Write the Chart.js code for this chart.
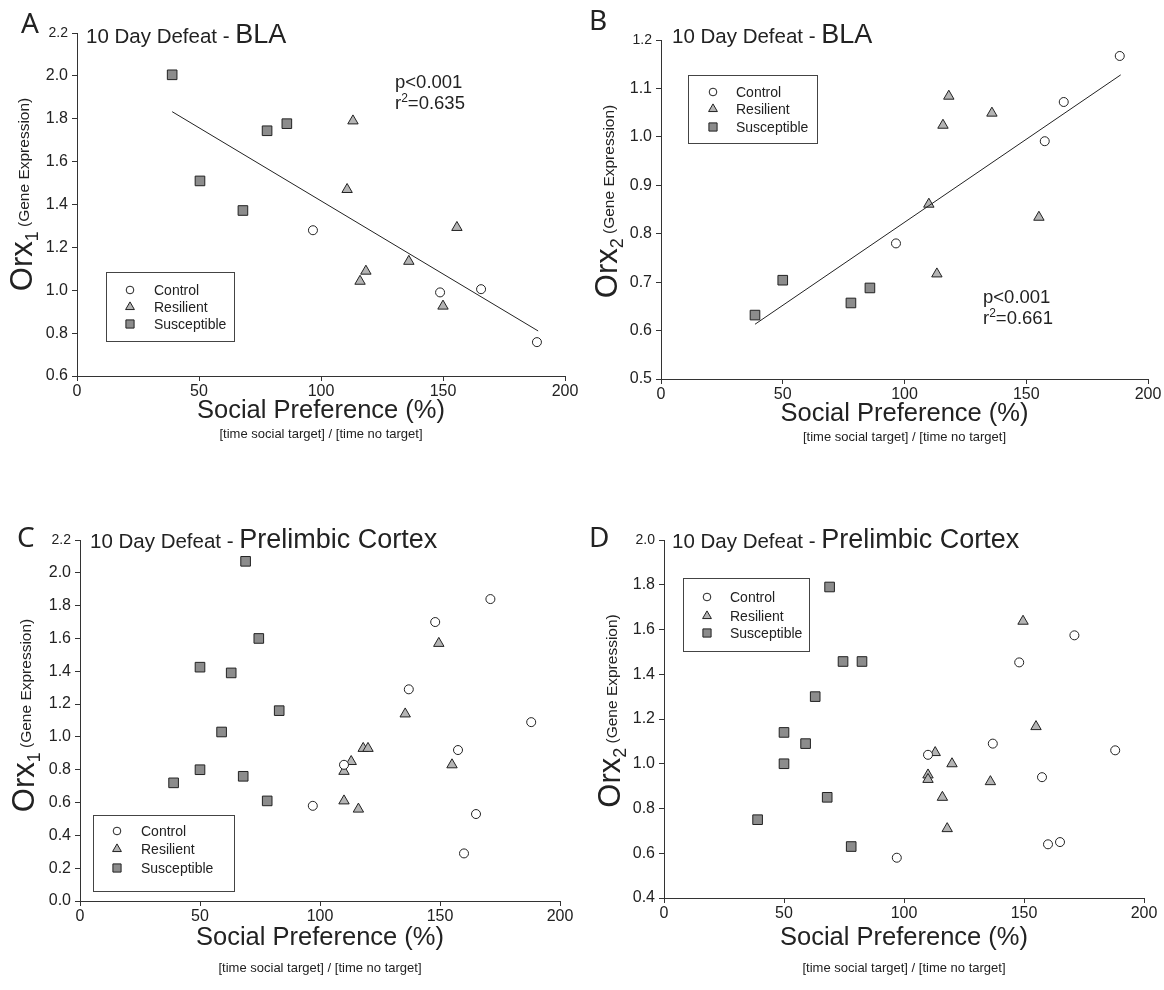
<!DOCTYPE html>
<html>
<head>
<meta charset="utf-8">
<script src="https://cdn.jsdelivr.net/npm/chart.js@4.4.1/dist/chart.umd.min.js"></script>
<style>
  html, body { margin: 0; padding: 0; background: #fff; }
  body { width: 1164px; height: 990px; position: relative; overflow: hidden; }
  canvas { position: absolute; }
</style>
</head>
<body>
<script>
// ==================== DATA ====================
// x = social preference (%), y = Orx gene expression
const xTicks = [0, 50, 100, 150, 200];
const groups = ['Control', 'Resilient', 'Susceptible'];

// A: Orx1, BLA
const ctrlA_x = [96.7, 148.8, 165.6, 188.5];
const ctrlA_y = [1.28, 0.99, 1.005, 0.758];
const resA_x = [110.7, 113.1, 116, 118.4, 136, 150, 155.7];
const resA_y = [1.47, 1.79, 1.042, 1.089, 1.135, 0.926, 1.293];
const susA_x = [39, 50.4, 68, 77.9, 86];
const susA_y = [2.005, 1.51, 1.372, 1.744, 1.777];
const fitA_x = [39, 189];
const fitA_y = [1.833, 0.81];
const yTicksA = [0.6, 0.8, 1.0, 1.2, 1.4, 1.6, 1.8, 2.0, 2.2];

// B: Orx2, BLA
const ctrlB_x = [96.5, 157.6, 165.4, 188.4];
const ctrlB_y = [0.78, 0.991, 1.072, 1.167];
const resB_x = [110, 113.3, 115.8, 118.2, 135.9, 155.2];
const resB_y = [0.861, 0.717, 1.024, 1.084, 1.049, 0.834];
const susB_x = [38.6, 50, 78, 85.8];
const susB_y = [0.632, 0.704, 0.657, 0.688];
const fitB_x = [38.6, 188.8];
const fitB_y = [0.613, 1.128];
const yTicksB = [0.5, 0.6, 0.7, 0.8, 0.9, 1.0, 1.1, 1.2];

// C: Orx1, prelimbic cortex
const ctrlC_x = [97, 110, 137, 148, 157.5, 160, 165, 171, 188];
const ctrlC_y = [0.58, 0.83, 1.29, 1.70, 0.92, 0.29, 0.53, 1.84, 1.09];
const resC_x = [110, 110, 113, 116, 118, 120, 135.5, 149.5, 155];
const resC_y = [0.79, 0.61, 0.85, 0.56, 0.93, 0.93, 1.14, 1.57, 0.83];
const susC_x = [39, 50, 50, 59, 63, 68, 69, 74.5, 78, 83];
const susC_y = [0.72, 1.425, 0.80, 1.03, 1.39, 0.76, 2.07, 1.60, 0.61, 1.16];
const yTicksC = [0.0, 0.2, 0.4, 0.6, 0.8, 1.0, 1.2, 1.4, 1.6, 1.8, 2.0, 2.2];

// D: Orx2, prelimbic cortex
const ctrlD_x = [97, 110, 137, 148, 157.5, 160, 165, 171, 188];
const ctrlD_y = [0.58, 1.04, 1.09, 1.453, 0.94, 0.64, 0.65, 1.574, 1.06];
const resD_x = [110, 110, 113, 116, 118, 120, 136, 149.6, 155];
const resD_y = [0.95, 0.93, 1.05, 0.85, 0.71, 1.0, 0.92, 1.637, 1.166];
const susD_x = [39, 50, 50, 59, 63, 68, 69, 74.6, 78, 82.5];
const susD_y = [0.75, 1.14, 1.0, 1.09, 1.30, 0.85, 1.79, 1.457, 0.63, 1.457];
const yTicksD = [0.4, 0.6, 0.8, 1.0, 1.2, 1.4, 1.6, 1.8, 2.0];

// ==================== STYLES ====================
const FONT = '"Liberation Sans", Arial, sans-serif';
const INK = '#222';
const markers = {
  Control:     { pointStyle: 'circle',   radius: 4.5, bg: '#ffffff', border: INK },
  Resilient:   { pointStyle: 'triangle', radius: 6,   bg: '#b4b4b4', border: INK },
  Susceptible: { pointStyle: 'rect',     radius: 6.8, bg: '#8c8c8c', border: INK }
};

function pts(xs, ys) { return xs.map((x, i) => ({ x: x, y: ys[i] })); }

// ==================== PANELS ====================
const panels = [
  { id: 'A', left: 0, top: 0, w: 590, h: 455,
    area: { left: 77, right: 565, top: 33, bottom: 376 },
    yTicks: yTicksA, orx: '1', region: 'BLA',
    series: [pts(ctrlA_x, ctrlA_y), pts(resA_x, resA_y), pts(susA_x, susA_y)],
    fit: pts(fitA_x, fitA_y),
    letter: { x: 21, y: 33 }, title: { x: 86, y: 43 },
    stats: { x: 395, y: 88, r2: '0.635' },
    legend: { x: 106, y: 272, w: 128, h: 69, mx: 130, tx: 154, rows: [290, 307, 324] },
    xTitleY: 418, subY: 438, yTitleX: 32, yTitleShift: -10 },
  { id: 'B', left: 590, top: 0, w: 574, h: 455,
    area: { left: 661, right: 1148, top: 40, bottom: 379 },
    yTicks: yTicksB, orx: '2', region: 'BLA',
    series: [pts(ctrlB_x, ctrlB_y), pts(resB_x, resB_y), pts(susB_x, susB_y)],
    fit: pts(fitB_x, fitB_y),
    letter: { x: 589, y: 30 }, title: { x: 672, y: 43 },
    stats: { x: 983, y: 303, r2: '0.661' },
    legend: { x: 688, y: 75, w: 129, h: 68, mx: 713, tx: 736, rows: [92, 109, 127] },
    xTitleY: 421, subY: 441, yTitleX: 617, yTitleShift: -8 },
  { id: 'C', left: 0, top: 455, w: 590, h: 535,
    area: { left: 80, right: 560, top: 540, bottom: 901 },
    yTicks: yTicksC, orx: '1', region: 'Prelimbic Cortex',
    series: [pts(ctrlC_x, ctrlC_y), pts(resC_x, resC_y), pts(susC_x, susC_y)],
    fit: null,
    letter: { x: 17, y: 547 }, title: { x: 90, y: 548 },
    stats: null,
    legend: { x: 93, y: 815, w: 141, h: 76, mx: 117, tx: 141, rows: [831, 849, 868] },
    xTitleY: 945, subY: 972, yTitleX: 34, yTitleShift: -5 },
  { id: 'D', left: 590, top: 455, w: 574, h: 535,
    area: { left: 664, right: 1144, top: 540, bottom: 898 },
    yTicks: yTicksD, orx: '2', region: 'Prelimbic Cortex',
    series: [pts(ctrlD_x, ctrlD_y), pts(resD_x, resD_y), pts(susD_x, susD_y)],
    fit: null,
    letter: { x: 589, y: 547 }, title: { x: 672, y: 548 },
    stats: null,
    legend: { x: 683, y: 578, w: 126, h: 73, mx: 707, tx: 730, rows: [597, 616, 633] },
    xTitleY: 945, subY: 972, yTitleX: 620, yTitleShift: -8 }
];

// ==================== TEXT / LEGEND PLUGIN ====================
function drawMarker(ctx, name, x, y, scale) {
  const m = markers[name];
  ctx.save();
  ctx.fillStyle = m.bg;
  ctx.strokeStyle = m.border;
  ctx.lineWidth = 1;
  Chart.helpers.drawPoint(ctx, { pointStyle: m.pointStyle, radius: m.radius * scale, borderWidth: 1, rotation: 0 }, x, y);
  ctx.restore();
}

const textPlugin = {
  id: 'panelText',
  afterDraw(chart) {
    const p = chart.config.options.panel;
    const ctx = chart.ctx;
    const a = chart.chartArea;
    ctx.save();
    ctx.translate(-p.left, -p.top);
    ctx.fillStyle = INK;
    ctx.textBaseline = 'alphabetic';
    ctx.textAlign = 'left';

    // panel letter
    ctx.font = '28px "Noto Sans", sans-serif';
    ctx.fillText(p.id, p.letter.x, p.letter.y);

    // title
    ctx.font = '20.5px ' + FONT;
    const t1 = '10 Day Defeat - ';
    ctx.fillText(t1, p.title.x, p.title.y);
    const w1 = ctx.measureText(t1).width;
    ctx.font = '27px ' + FONT;
    ctx.fillText(p.region, p.title.x + w1, p.title.y);

    // stats
    if (p.stats) {
      ctx.font = '18.5px ' + FONT;
      ctx.fillText('p<0.001', p.stats.x, p.stats.y);
      const y2 = p.stats.y + 21;
      ctx.fillText('r', p.stats.x, y2);
      const wr = ctx.measureText('r').width;
      ctx.font = '12px ' + FONT;
      ctx.fillText('2', p.stats.x + wr, y2 - 7);
      const w2 = ctx.measureText('2').width;
      ctx.font = '18.5px ' + FONT;
      ctx.fillText('=' + p.stats.r2, p.stats.x + wr + w2, y2);
    }

    // legend box
    const L = p.legend;
    ctx.strokeStyle = '#444';
    ctx.lineWidth = 1;
    ctx.strokeRect(L.x + 0.5, L.y + 0.5, L.w, L.h);
    ctx.font = '14px ' + FONT;
    ctx.textBaseline = 'middle';
    groups.forEach((g, i) => {
      drawMarker(ctx, g, L.mx, L.rows[i], 0.85);
      ctx.fillStyle = INK;
      ctx.fillText(g, L.tx, L.rows[i] + 1);
    });
    ctx.textBaseline = 'alphabetic';

    // x axis titles
    const cx = p.left + (a.left + a.right) / 2;
    ctx.textAlign = 'center';
    ctx.font = '25.5px ' + FONT;
    ctx.fillText('Social Preference (%)', cx, p.xTitleY);
    ctx.font = '13px ' + FONT;
    ctx.fillText('[time social target] / [time no target]', cx, p.subY);

    // y axis title (rotated)
    const cy = p.top + (a.top + a.bottom) / 2 + p.yTitleShift;
    ctx.save();
    ctx.translate(p.yTitleX, cy);
    ctx.rotate(-Math.PI / 2);
    ctx.textAlign = 'left';
    const parts = [
      { s: 'Orx', f: '31px ' + FONT, dy: 0 },
      { s: p.orx, f: '18px ' + FONT, dy: 6 },
      { s: ' (Gene Expression)', f: '15.5px ' + FONT, dy: -3 }
    ];
    let total = 0;
    parts.forEach(q => { ctx.font = q.f; q.w = ctx.measureText(q.s).width; total += q.w; });
    let x0 = -total / 2;
    parts.forEach(q => { ctx.font = q.f; ctx.fillText(q.s, x0, q.dy); x0 += q.w; });
    ctx.restore();

    ctx.restore();
  }
};

// ==================== BUILD CHARTS ====================
function makePanel(p) {
  const cv = document.createElement('canvas');
  cv.width = p.w;
  cv.height = p.h;
  cv.style.left = p.left + 'px';
  cv.style.top = p.top + 'px';
  document.body.appendChild(cv);

  const yMin = p.yTicks[0], yMax = p.yTicks[p.yTicks.length - 1];

  const datasets = groups.map((g, i) => ({
    label: g,
    data: p.series[i],
    pointStyle: markers[g].pointStyle,
    pointRadius: markers[g].radius,
    pointBackgroundColor: markers[g].bg,
    pointBorderColor: markers[g].border,
    pointBorderWidth: 1,
    showLine: false
  }));
  if (p.fit) {
    datasets.unshift({
      label: 'fit', data: p.fit, showLine: true,
      borderColor: INK, borderWidth: 1, pointRadius: 0, fill: false
    });
  }

  const tickColor = '#333';
  new Chart(cv, {
    type: 'scatter',
    data: { datasets: datasets },
    options: {
      panel: p,
      responsive: false,
      animation: false,
      events: [],
      layout: { padding: { left: 0, top: p.area.top - p.top, right: p.left + p.w - p.area.right, bottom: 0 } },
      plugins: { legend: { display: false }, tooltip: { enabled: false } },
      scales: {
        x: {
          type: 'linear', min: xTicks[0], max: xTicks[xTicks.length - 1],
          afterBuildTicks: s => { s.ticks = xTicks.map(v => ({ value: v })); },
          ticks: { color: INK, font: { family: FONT, size: 16 }, padding: 1 },
          grid: { drawOnChartArea: false, drawTicks: true, tickLength: 5, color: tickColor },
          border: { color: tickColor, width: 1 },
          afterFit: s => { s.height = p.top + p.h - p.area.bottom; }
        },
        y: {
          type: 'linear', min: yMin, max: yMax,
          afterBuildTicks: s => { s.ticks = p.yTicks.map(v => ({ value: v })); },
          ticks: {
            color: INK, padding: 4,
            font: c => ({ family: FONT, size: (c.tick && Math.abs(c.tick.value - yMax) < 1e-6) ? 14 : 16 }),
            callback: v => Number(v).toFixed(1)
          },
          grid: { drawOnChartArea: false, drawTicks: true, tickLength: 5, color: tickColor },
          border: { color: tickColor, width: 1 },
          afterFit: s => { s.width = p.area.left - p.left; }
        }
      }
    },
    plugins: [textPlugin]
  });
}

panels.forEach(makePanel);
</script>
</body>
</html>
